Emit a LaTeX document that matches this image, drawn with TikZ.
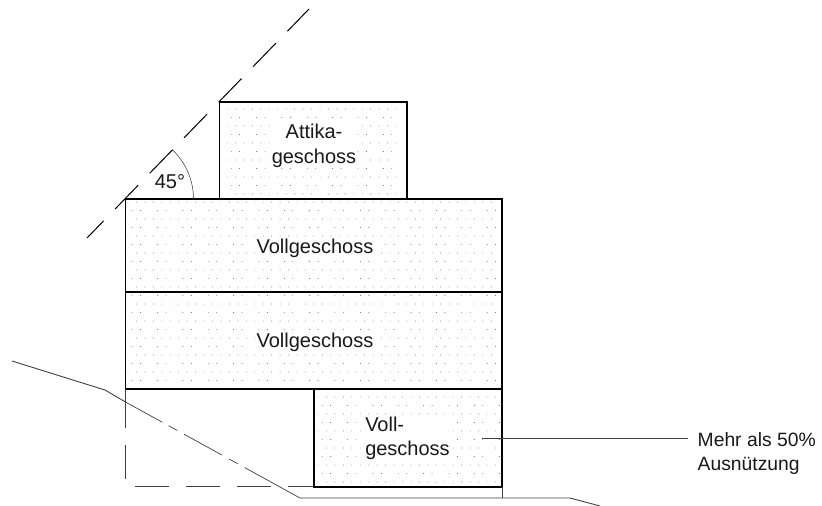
\documentclass[tikz,border=0pt]{standalone}
\usepackage{fontspec}
\setmainfont{Liberation Sans}
\tikzset{
  floorbox/.style={draw=black,line width=1.6pt,fill=white,inner sep=0pt},
  lbl/.style={font=\fontsize{20}{24.5}\selectfont,align=center,inner sep=0.5pt,text=black!90},
  notelbl/.style={font=\fontsize{19.3}{24}\selectfont,align=left,inner sep=0.5pt,text=black!90},
  thinline/.style={line width=0.9pt,draw=black!75},
  dot/.style={fill=black!60,draw=none}
}
% #1 x0, #2 y0, #3 x1, #4 rows, #5 parity of the first row
\newcommand{\dotfield}[5]{%
  \pgfmathtruncatemacro{\ncols}{(#3-#1)/8.45}
  \foreach \r in {0,...,#4}{%
    \pgfmathtruncatemacro{\odd}{mod(\r+#5,2)}
    \foreach \c in {0,...,\ncols}{%
      \pgfmathtruncatemacro{\skipit}{\odd==1 && mod(\c,3)==2 ? 1 : 0}
      \ifnum\skipit=0
        \fill[dot] ({#1+8.45*\c+4.2*\odd},{#2+8.5*\r}) circle (0.45);
      \fi
    }
  }
}
\begin{document}
\begin{tikzpicture}[x=1pt,y=-1pt]
\useasboundingbox (0,0) rectangle (822,506);
\coordinate (g0) at (12,361);
\coordinate (g1) at (105,390);
\coordinate (g2) at (125.5,402);
\coordinate (g3) at (300,498);
\coordinate (g4) at (570,498);
\coordinate (g5) at (600,506);
\coordinate (slopeA) at (87,238);
\coordinate (slopeB) at (309,9);
\coordinate (apex) at (125.5,199);
\coordinate (bl) at (125.5,389);
\coordinate (blb) at (125.5,486.5);
\coordinate (brb) at (314,486.5);
\coordinate (wallB) at (502,487);
\coordinate (wallC) at (502,498);
\coordinate (lead) at (482,438);
\coordinate (leadE) at (688,438);
% floors
\draw[floorbox] (219.5,102) rectangle (407,199);
\draw[floorbox] (125.5,199) rectangle (502,292);
\draw[floorbox] (125.5,292) rectangle (502,389);
\draw[floorbox] (314,389) rectangle (502,487);
\dotfield{227}{109}{402}{10}{0}
\dotfield{128}{202}{498}{10}{0}
\dotfield{128}{295.5}{498}{10}{1}
\dotfield{318}{397}{498}{10}{0}
% slope line
\draw[line width=1pt,dash pattern=on 33pt off 16.5pt,dash phase=9pt] (slopeA) -- (slopeB);
\draw[line width=0.6pt,draw=black!70] (apex) ++(68,0) arc[start angle=0,end angle=-46,radius=68];
% ground
\draw[thinline] (g0) -- (g1) -- (g2);
\draw[thinline,line width=0.7pt,dash pattern=on 42pt off 7pt on 10pt off 8pt on 43pt off 8pt on 10pt off 8pt on 80pt off 10pt] (g2) -- (g3);
\draw[thinline] (g3) -- (g4) -- (g5);
% hidden basement outline
\draw[thinline,dash pattern=on 39pt off 17pt on 34pt off 100pt] (bl) -- (blb);
\draw[thinline,dash pattern=on 34pt off 17pt] ([xshift=9.5pt]blb) -- (brb);
\draw[thinline,line width=0.7pt] (wallB) -- (wallC);
\draw[thinline] (lead) -- (leadE);
% labels
\node[lbl,fill=white] (attika) at (314,146) {Attika-\\geschoss};
\node[lbl,fill=white] (v1) at (315,248) {Vollgeschoss};
\node[lbl,fill=white] (v2) at (315,342) {Vollgeschoss};
\node[lbl,fill=white,align=left] (v3) at (407.5,438.5) {Voll-\\geschoss};
\node[lbl] (angle) at (170,182) {45°};
\node[notelbl,anchor=west] (note) at (697,453.5) {Mehr als 50\%\\Ausnützung};
\end{tikzpicture}
\end{document}
